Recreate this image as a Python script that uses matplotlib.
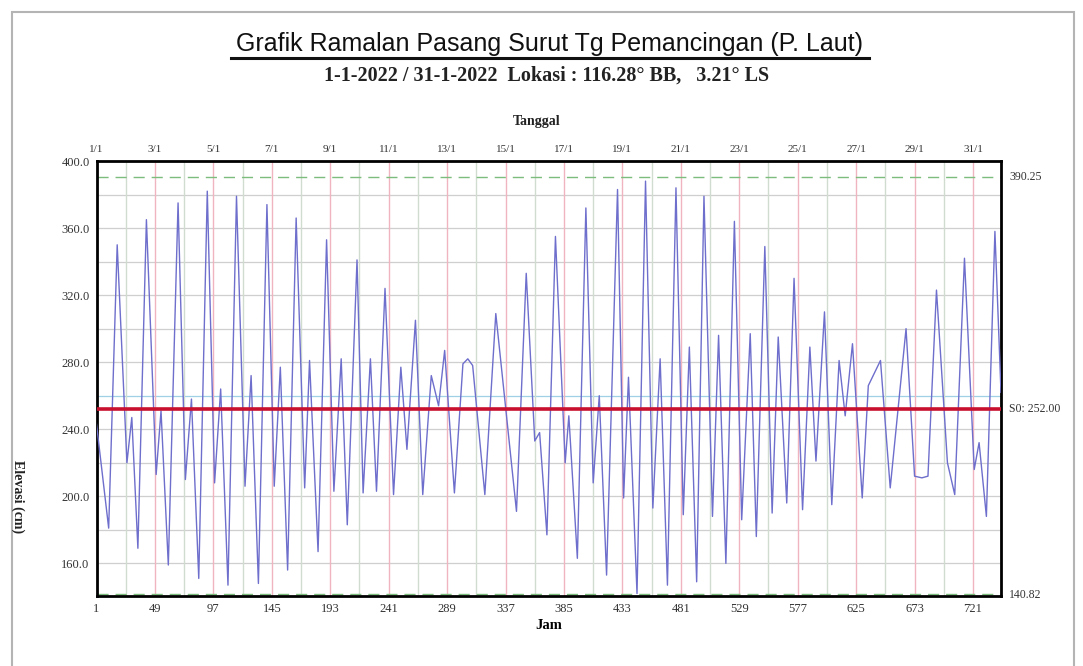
import matplotlib
matplotlib.use("Agg")
import matplotlib.pyplot as plt
from matplotlib.patches import Rectangle
from matplotlib.lines import Line2D
import numpy as np

# jam (hours) and elevasi (cm) at the turning points
jam = [1, 11, 18, 26, 30, 35, 42, 50, 54, 60, 68, 74, 79, 85, 92, 98, 103, 109,
       116, 123, 128, 134, 141, 147, 152, 158, 165, 172, 176, 183, 190, 196,
       202, 207, 215, 220, 226, 231, 238, 245, 251, 256, 263, 269, 276, 282,
       287, 295, 302, 306, 310, 320, 329, 346, 354, 361, 365, 371, 378, 386,
       389, 396, 403, 409, 414, 420, 429, 434, 438, 445, 452, 458, 464, 470,
       477, 483, 488, 494, 500, 507, 512, 518, 525, 531, 538, 543, 550, 556,
       561, 568, 574, 581, 587, 592, 599, 605, 611, 616, 622, 630, 635, 639,
       645, 653, 666, 673, 679, 684, 691, 700, 706, 714, 722, 726, 732, 739, 744]
elevasi = [243, 181, 350, 220, 247, 169, 365, 213, 251, 159, 375, 210, 258, 151,
           382, 208, 264, 147, 379, 206, 272, 148, 374, 206, 277, 156, 366, 205,
           281, 167, 353, 203, 282, 183, 341, 202, 282, 203, 324, 201, 277, 228,
           305, 201, 272, 254, 287, 202, 279, 282, 278, 201, 309, 191, 333, 233,
           238, 177, 355, 220, 248, 163, 372, 208, 260, 153, 383, 199, 271, 142,
           388, 193, 282, 147, 384, 189, 289, 149, 379, 188, 296, 160, 364, 186,
           297, 176, 349, 190, 295, 196, 330, 192, 289, 221, 310, 195, 281, 248,
           291, 199, 266, 272, 281, 205, 300, 212, 211, 212, 323, 220, 201, 342,
           216, 232, 188, 358, 262]

hhws = 390.25
llws = 140.82
s0 = 252.00

jam_ticks = list(range(1, 745, 48))
tanggal = ["%d/1" % d for d in range(1, 32, 2)]
y_ticks = [160, 200, 240, 280, 320, 360, 400]

serif = ["Liberation Serif", "DejaVu Serif"]
sans = ["Liberation Sans Narrow", "Liberation Sans", "DejaVu Sans"]

fig = plt.figure(figsize=(10.83, 6.66), dpi=100)
W, H = 1083.0, 666.0
ax = fig.add_axes([96.5 / W, 1 - 596 / H, (1001 - 96.5) / W, (596 - 161) / H])

ax.set_xlim(1, 744)
ax.set_ylim(llws - 0.3, 400)

# grid
for y in range(160, 400, 20):
    ax.axhline(y, color="#9fd0e6" if y == 260 else "#cfcfcf", lw=0.9, zorder=1)
for i, h in enumerate(range(1, 745, 24)):
    ax.axvline(h, color="#f0b4c0" if i % 2 == 0 else "#cfdccf", lw=1.0, zorder=1)

ax.axhline(hhws, color="#7cbc7c", lw=1.0, ls=(0, (8, 5)), zorder=2)
ax.axhline(llws + 0.6, color="#7cbc7c", lw=1.0, ls=(0, (8, 5)), zorder=2)

ax.plot(jam, elevasi, color="#6e6ecc", lw=1.0, zorder=3)
ax.axhline(s0, color="#c8102e", lw=2.6, zorder=4)

for s in ax.spines.values():
    s.set_linewidth(2.0)
    s.set_color("black")

ax.set_xticks(jam_ticks, labels=[str(j) for j in jam_ticks])
ax.set_yticks(y_ticks, labels=["%.1f" % v for v in y_ticks])
ax.tick_params(length=0, labelsize=9, pad=5)
for lab in ax.get_xticklabels() + ax.get_yticklabels():
    lab.set_family(serif)
    lab.set_color("#333333")

top = ax.secondary_xaxis("top")
top.set_xticks(jam_ticks, labels=tanggal)
top.tick_params(length=0, labelsize=8, pad=5)
for lab in top.get_xticklabels():
    lab.set_family(serif)
    lab.set_color("#333333")
top.spines["top"].set_visible(False)

ax.set_xlabel("Jam", family=serif, fontweight="bold", fontsize=10.5, labelpad=3)

# right-hand labels
for val, txt in [(hhws, "390.25"), (s0, "S0: 252.00"), (llws, "140.82")]:
    ax.annotate(txt, xy=(1.0, val), xycoords=("axes fraction", "data"),
                xytext=(6, 0), textcoords="offset points", va="center",
                ha="left", fontsize=8.5, family=serif, color="#333333")

fig.text(550 / W, 1 - 44 / H, "Grafik Ramalan Pasang Surut Tg Pemancingan (P. Laut)",
         ha="center", va="center", fontsize=18, family=sans, color="#111111")
fig.add_artist(Line2D([231 / W, 869 / W], [1 - 58 / H, 1 - 58 / H],
                      color="#111111", lw=2.2))
fig.text(547 / W, 1 - 76 / H,
         "1-1-2022 / 31-1-2022  Lokasi : 116.28° BB,   3.21° LS",
         ha="center", va="center", fontsize=14.5, family=serif,
         fontweight="bold", color="#222222")
fig.text(537 / W, 1 - 121 / H, "Tanggal", ha="center", va="center",
         fontsize=10, family=serif, fontweight="bold", color="#222222")
fig.text(18 / W, 1 - 497 / H, "Elevasi (cm)", ha="center", va="center",
         rotation=-90, fontsize=10, family=serif, fontweight="bold",
         color="#222222")

fig.add_artist(Rectangle((12 / W, -0.01), (1074 - 12) / W, 1.01 - 12 / H,
                         transform=fig.transFigure, fill=False,
                         edgecolor="#b4b4b4", lw=1.5))

fig.savefig("out.png", dpi=100)
